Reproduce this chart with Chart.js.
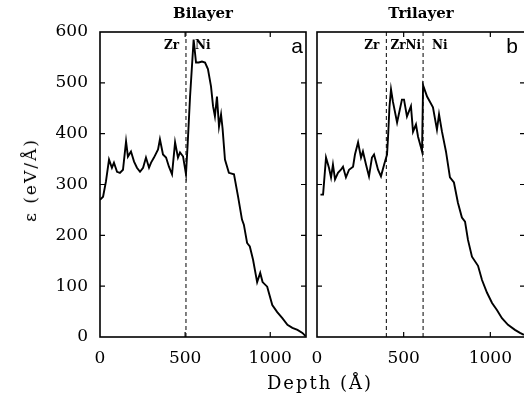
<!DOCTYPE html>
<html>
<head>
<meta charset="utf-8">
<title>Bilayer / Trilayer</title>
<script src="https://cdn.jsdelivr.net/npm/chart.js@4.4.1/dist/chart.umd.min.js"></script>
<style>
  html, body { margin: 0; padding: 0; background: #fff; }
  #wrap { position: relative; width: 524px; height: 396px; overflow: hidden; }
  canvas { position: absolute; top: 0; }
  #bilayer { left: 0; }
  #trilayer { left: 311px; }
  .axis-title { position: absolute; font-family: "DejaVu Serif", serif; color: #000; white-space: nowrap; letter-spacing: 2px; }
  #xTitle { left: 320px; top: 382px; font-size: 18px; transform: translate(-50%, -50%); }
  #yTitle { left: 30px; top: 180px; font-size: 17px; transform: translate(-50%, -50%) rotate(-90deg); }
</style>
</head>
<body>
<div id="wrap">
  <canvas id="bilayer" width="312" height="396"></canvas>
  <canvas id="trilayer" width="219" height="396"></canvas>
  <div class="axis-title" id="yTitle">ε (eV/Å)</div>
  <div class="axis-title" id="xTitle">Depth (Å)</div>
</div>
<script>
// tick values
const xTicks = [0, 500, 1000];
const yTicks = [0, 100, 200, 300, 400, 500, 600];

// panel a: bilayer (depth in Å, epsilon in eV/Å)
const bilayerDepth = [0, 18, 35, 53, 70, 82, 100, 117, 135, 153, 164, 182, 200, 217, 235, 253, 270, 288, 300, 317,
  341, 352, 370, 388, 405, 423, 441, 458, 470, 488, 505, 515, 529, 550, 564, 580, 599, 617, 634, 652,
  664, 675, 687, 699, 711, 720, 734, 757, 787, 811, 834, 845, 864, 880, 899, 923, 941, 955, 982, 1012,
  1041, 1071, 1101, 1130, 1160, 1189, 1207];
const bilayerEps = [270, 276, 306, 349, 333, 343, 325, 323, 329, 385, 355, 365, 345, 333, 325, 333, 353, 333, 343, 353,
  369, 389, 359, 353, 335, 320, 383, 353, 363, 355, 320, 380, 473, 585, 540, 540, 542, 540, 527, 493,
  454, 434, 473, 414, 438, 410, 349, 323, 320, 276, 231, 221, 185, 178, 152, 108, 126, 108, 99, 63,
  49, 37, 24, 18, 14, 8, 2];
const bilayerBounds = [505];
const bilayerLayers = ['Zr', 'Ni'];

// panel b: trilayer
const trilayerDepth = [20, 35, 52, 69, 81, 92, 104, 121, 138, 150, 167, 185, 208, 219, 237, 254, 265, 283, 300, 317,
  329, 352, 369, 387, 404, 410, 418, 427, 438, 462, 490, 502, 519, 542, 554, 571, 583, 600, 606, 612,
  635, 669, 692, 704, 721, 744, 767, 790, 813, 836, 854, 871, 894, 929, 952, 981, 1010, 1038, 1067, 1102,
  1142, 1171, 1194];
const trilayerEps = [280, 280, 353, 333, 314, 339, 310, 323, 329, 335, 314, 329, 335, 359, 383, 353, 365, 339, 316, 353,
  359, 329, 316, 339, 359, 394, 452, 487, 463, 422, 467, 467, 434, 454, 404, 418, 394, 373, 365, 495,
  473, 452, 408, 438, 404, 365, 314, 304, 264, 235, 227, 191, 158, 140, 112, 87, 67, 53, 37, 24,
  14, 8, 4];
const trilayerBounds = [400, 612];
const trilayerLayers = ['Zr', 'ZrNi', 'Ni'];

const serif = '"DejaVu Serif", serif';

// frame, inward ticks, layer names and panel letter
const framePlugin = {
  id: 'frame',
  afterDatasetsDraw(chart, args, opts) {
    const { ctx, chartArea: a, scales: { x, y } } = chart;
    ctx.save();
    ctx.strokeStyle = '#000';
    ctx.lineWidth = 1.6;
    ctx.strokeRect(a.left, a.top, a.right - a.left, a.bottom - a.top);

    ctx.lineWidth = 1.2;
    ctx.beginPath();
    xTicks.forEach(v => {
      const px = x.getPixelForValue(v);
      if (px <= a.left + 1 || px >= a.right - 1) return;
      ctx.moveTo(px, a.bottom); ctx.lineTo(px, a.bottom - 5);
      ctx.moveTo(px, a.top); ctx.lineTo(px, a.top + 5);
    });
    yTicks.forEach(v => {
      const py = y.getPixelForValue(v);
      if (py >= a.bottom - 1 || py <= a.top + 1) return;
      ctx.moveTo(a.left, py); ctx.lineTo(a.left + 5, py);
      ctx.moveTo(a.right, py); ctx.lineTo(a.right - 5, py);
    });
    ctx.stroke();

    // layer names along the top
    ctx.fillStyle = '#000';
    ctx.font = 'bold 12px ' + serif;
    ctx.textBaseline = 'middle';
    const b = opts.bounds.map(v => x.getPixelForValue(v));
    const ty = a.top + 14;
    opts.layers.forEach((name, i) => {
      if (i === 0) {
        ctx.textAlign = 'right';
        ctx.fillText(name, b[0] - 7, ty);
      } else if (i === opts.layers.length - 1) {
        ctx.textAlign = 'left';
        ctx.fillText(name, b[b.length - 1] + 9, ty);
      } else {
        ctx.textAlign = 'center';
        ctx.fillText(name, (b[i - 1] + b[i]) / 2 + 1, ty);
      }
    });

    // panel letter
    ctx.font = '21px "Liberation Sans", sans-serif';
    ctx.textAlign = 'center';
    ctx.textBaseline = 'alphabetic';
    ctx.fillText(opts.letter, a.right - opts.letterInset, a.top + 21);
    ctx.restore();
  }
};

function makePanel(id, title, depth, eps, bounds, layers, letter, letterInset, xMax, showY, padLeft, padRight) {
  const datasets = [{
    data: depth.map((d, i) => ({ x: d, y: eps[i] })),
    borderColor: '#000',
    borderWidth: 1.9,
    pointRadius: 0,
    tension: 0
  }];
  // dashed interface markers
  bounds.forEach(v => {
    datasets.push({
      data: [{ x: v, y: 0 }, { x: v, y: 600 }],
      borderColor: '#000',
      borderWidth: 1,
      borderDash: [4, 3],
      pointRadius: 0
    });
  });

  return new Chart(document.getElementById(id), {
    type: 'line',
    data: { datasets },
    plugins: [framePlugin],
    options: {
      responsive: false,
      animation: false,
      devicePixelRatio: 1,
      layout: { padding: { left: padLeft, right: padRight, top: 0, bottom: 0 } },
      plugins: {
        legend: { display: false },
        tooltip: { enabled: false },
        title: {
          display: true,
          text: title,
          fullSize: false,
          color: '#000',
          font: { family: serif, size: 15, weight: 'bold' },
          padding: { top: 5, bottom: 9 }
        },
        frame: { bounds, layers, letter, letterInset }
      },
      scales: {
        x: {
          type: 'linear',
          min: 0,
          max: xMax,
          grid: { display: false, drawTicks: false },
          border: { display: false },
          afterBuildTicks: s => { s.ticks = xTicks.map(v => ({ value: v })); },
          ticks: {
            autoSkip: false,
            maxRotation: 0,
            padding: 11,
            color: '#000',
            font: { family: serif, size: 17 },
            callback: v => String(v)
          },
          afterFit: s => { s.height = 59; s.paddingLeft = 0; s.paddingRight = 0; }
        },
        y: {
          min: 0,
          max: 600,
          grid: { display: false, drawTicks: false },
          border: { display: false },
          afterBuildTicks: s => { s.ticks = yTicks.map(v => ({ value: v })); },
          ticks: {
            display: showY,
            autoSkip: false,
            padding: 12,
            color: '#000',
            font: { family: serif, size: 17 },
            callback: v => String(v)
          },
          afterFit: s => { s.width = showY ? 100 : 0; s.paddingTop = 0; s.paddingBottom = 0; }
        }
      }
    }
  });
}

makePanel('bilayer', 'Bilayer', bilayerDepth, bilayerEps, bilayerBounds, bilayerLayers, 'a', 9, 1210, true, 0, 6);
makePanel('trilayer', 'Trilayer', trilayerDepth, trilayerEps, trilayerBounds, trilayerLayers, 'b', 13, 1200, false, 6, 5);
</script>
</body>
</html>
